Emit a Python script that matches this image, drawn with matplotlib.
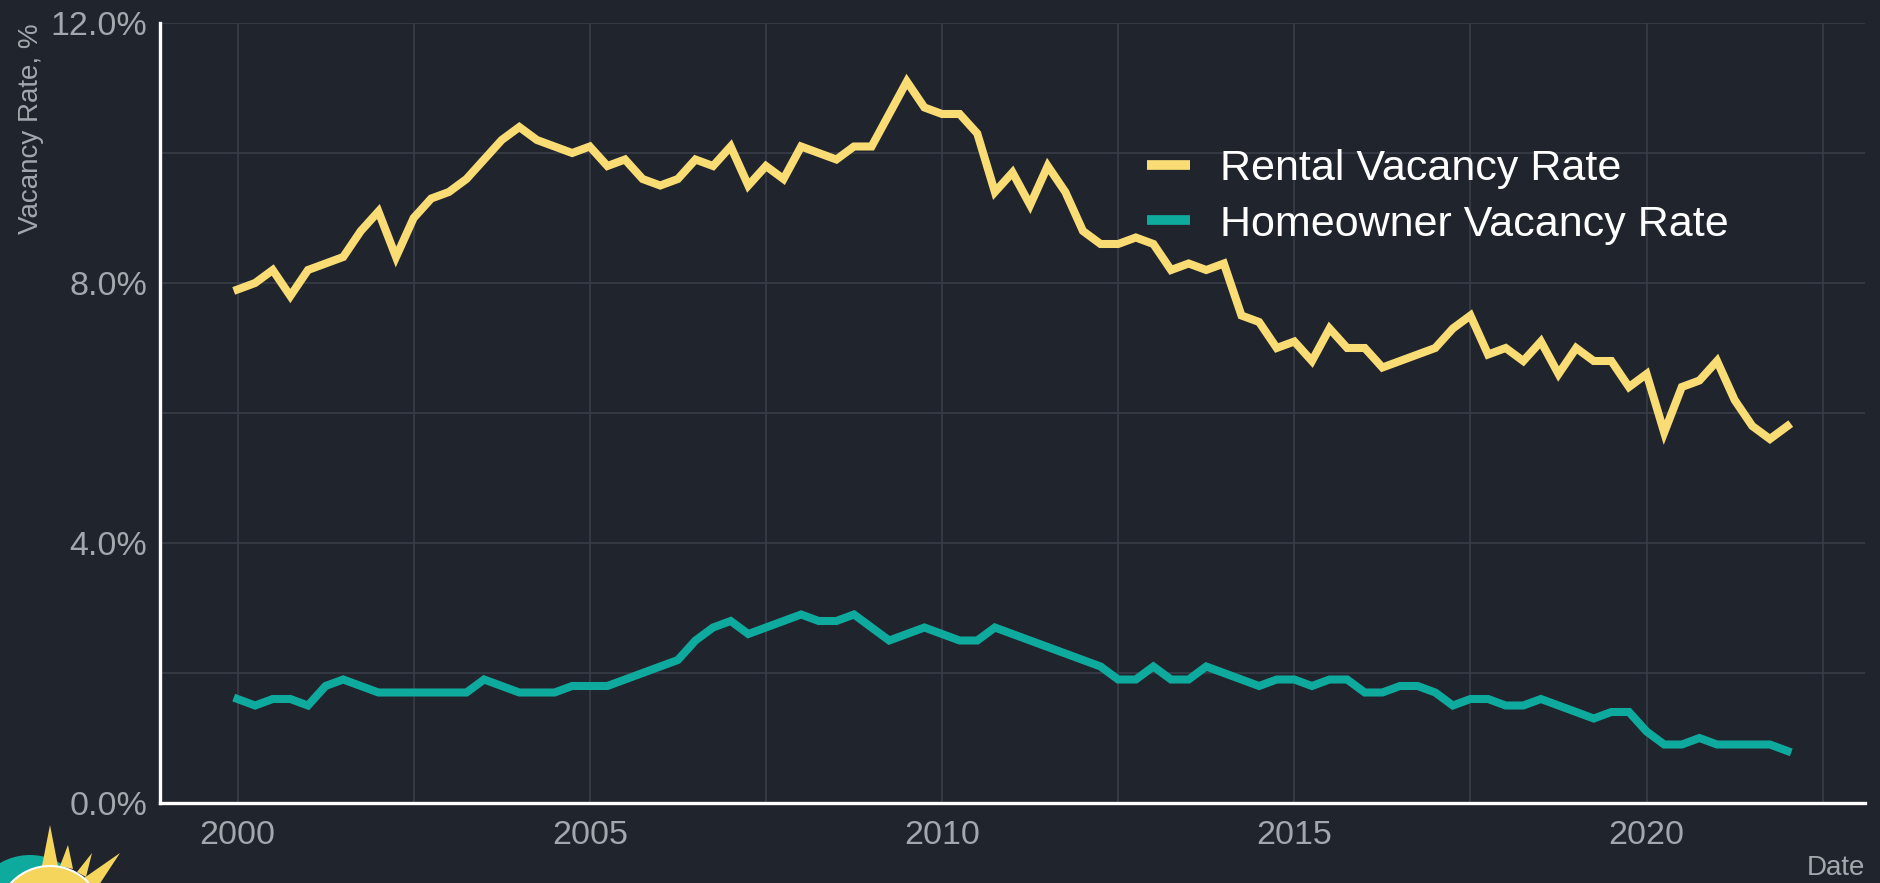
import numpy as np
import matplotlib
matplotlib.use("Agg")
import matplotlib.pyplot as plt
from matplotlib.patches import Circle, Polygon
from matplotlib.ticker import FuncFormatter, MultipleLocator

plt.rcParams["font.family"] = ["Liberation Sans", "DejaVu Sans"]

# Quarterly vacancy rates (%), 2000 Q1 - 2022 Q1
start_year = 2000
rental = [
    7.9, 8.0, 8.2, 7.8,
    8.2, 8.3, 8.4, 8.8,
    9.1, 8.4, 9.0, 9.3,
    9.4, 9.6, 9.9, 10.2,
    10.4, 10.2, 10.1, 10.0,
    10.1, 9.8, 9.9, 9.6,
    9.5, 9.6, 9.9, 9.8,
    10.1, 9.5, 9.8, 9.6,
    10.1, 10.0, 9.9, 10.1,
    10.1, 10.6, 11.1, 10.7,
    10.6, 10.6, 10.3, 9.4,
    9.7, 9.2, 9.8, 9.4,
    8.8, 8.6, 8.6, 8.7,
    8.6, 8.2, 8.3, 8.2,
    8.3, 7.5, 7.4, 7.0,
    7.1, 6.8, 7.3, 7.0,
    7.0, 6.7, 6.8, 6.9,
    7.0, 7.3, 7.5, 6.9,
    7.0, 6.8, 7.1, 6.6,
    7.0, 6.8, 6.8, 6.4,
    6.6, 5.7, 6.4, 6.5,
    6.8, 6.2, 5.8, 5.6,
    5.8,
]
homeowner = [
    1.6, 1.5, 1.6, 1.6,
    1.5, 1.8, 1.9, 1.8,
    1.7, 1.7, 1.7, 1.7,
    1.7, 1.7, 1.9, 1.8,
    1.7, 1.7, 1.7, 1.8,
    1.8, 1.8, 1.9, 2.0,
    2.1, 2.2, 2.5, 2.7,
    2.8, 2.6, 2.7, 2.8,
    2.9, 2.8, 2.8, 2.9,
    2.7, 2.5, 2.6, 2.7,
    2.6, 2.5, 2.5, 2.7,
    2.6, 2.5, 2.4, 2.3,
    2.2, 2.1, 1.9, 1.9,
    2.1, 1.9, 1.9, 2.1,
    2.0, 1.9, 1.8, 1.9,
    1.9, 1.8, 1.9, 1.9,
    1.7, 1.7, 1.8, 1.8,
    1.7, 1.5, 1.6, 1.6,
    1.5, 1.5, 1.6, 1.5,
    1.4, 1.3, 1.4, 1.4,
    1.1, 0.9, 0.9, 1.0,
    0.9, 0.9, 0.9, 0.9,
    0.8,
]
series_labels = ["Rental Vacancy Rate", "Homeowner Vacancy Rate"]

dates = start_year + np.arange(len(rental)) * 0.25

bg = "#20242d"
grid_col = "#3a3f4a"
tick_col = "#a3a7ae"
colors = ["#f9dc74", "#0faa9e"]

fig = plt.figure(figsize=(18.8, 8.83), dpi=100, facecolor=bg)
ax = fig.add_axes([160 / 1880, 80 / 883, 1705 / 1880, 780 / 883])
ax.set_facecolor(bg)

ax.plot(dates, rental, color=colors[0], lw=5.8, label=series_labels[0],
        solid_joinstyle="miter", zorder=3)
ax.plot(dates, homeowner, color=colors[1], lw=5.8, label=series_labels[1],
        solid_joinstyle="miter", zorder=3)

span = dates[-1] - dates[0]
ax.set_xlim(dates[0] - 0.05 * span, dates[-1] + 0.05 * span)
ax.set_ylim(0, 12)

ax.xaxis.set_major_locator(MultipleLocator(5))
ax.xaxis.set_minor_locator(MultipleLocator(2.5))
ax.yaxis.set_major_locator(MultipleLocator(4))
ax.yaxis.set_minor_locator(MultipleLocator(2))
ax.xaxis.set_major_formatter(FuncFormatter(lambda v, p: f"{v:.0f}"))
ax.yaxis.set_major_formatter(FuncFormatter(lambda v, p: f"{v:.1f}%"))

ax.grid(True, which="both", color=grid_col, lw=1.1, zorder=0)
ax.tick_params(which="both", length=0, colors=tick_col, labelsize=24.5)
ax.tick_params(axis="x", pad=12)
ax.tick_params(axis="y", pad=9)

for side in ["top", "right"]:
    ax.spines[side].set_visible(False)
for side in ["left", "bottom"]:
    ax.spines[side].set_color("white")
    ax.spines[side].set_linewidth(2.4)

ax.set_ylabel("Vacancy Rate, %", loc="top", color=tick_col, fontsize=20, labelpad=5)
ax.set_xlabel("Date", loc="right", color=tick_col, fontsize=20, labelpad=3)

leg = ax.legend(loc="center left", bbox_to_anchor=(1147 / 1880, 1 - 197 / 883),
                bbox_transform=fig.transFigure, frameon=False, fontsize=31,
                handlelength=1.0, handletextpad=0.7, labelspacing=0.35,
                borderpad=0, borderaxespad=0)
for t in leg.get_texts():
    t.set_color("white")
for h in leg.get_lines():
    h.set_linewidth(7)
    h.set_solid_capstyle("butt")

# logo in the bottom-left corner
lax = fig.add_axes([0, 0, 1, 1], facecolor="none", zorder=10)
lax.set_xlim(0, 1880)
lax.set_ylim(883, 0)
lax.axis("off")
lax.add_patch(Circle((30, 915), 60, color="#0faa9e", lw=0))
spikes = [
    [(42, 866), (50, 825), (58, 866)],
    [(60, 866), (68, 845), (73, 869)],
    [(77, 872), (92, 853), (86, 877)],
    [(84, 878), (120, 853), (97, 888)],
]
for pts in spikes:
    lax.add_patch(Polygon(pts, closed=True, color="#f6d55c", lw=0))
lax.add_patch(Circle((50, 919), 53, facecolor="#f6d55c", edgecolor="white", lw=1.5))

fig.savefig("out.png", dpi=100, facecolor=bg)
